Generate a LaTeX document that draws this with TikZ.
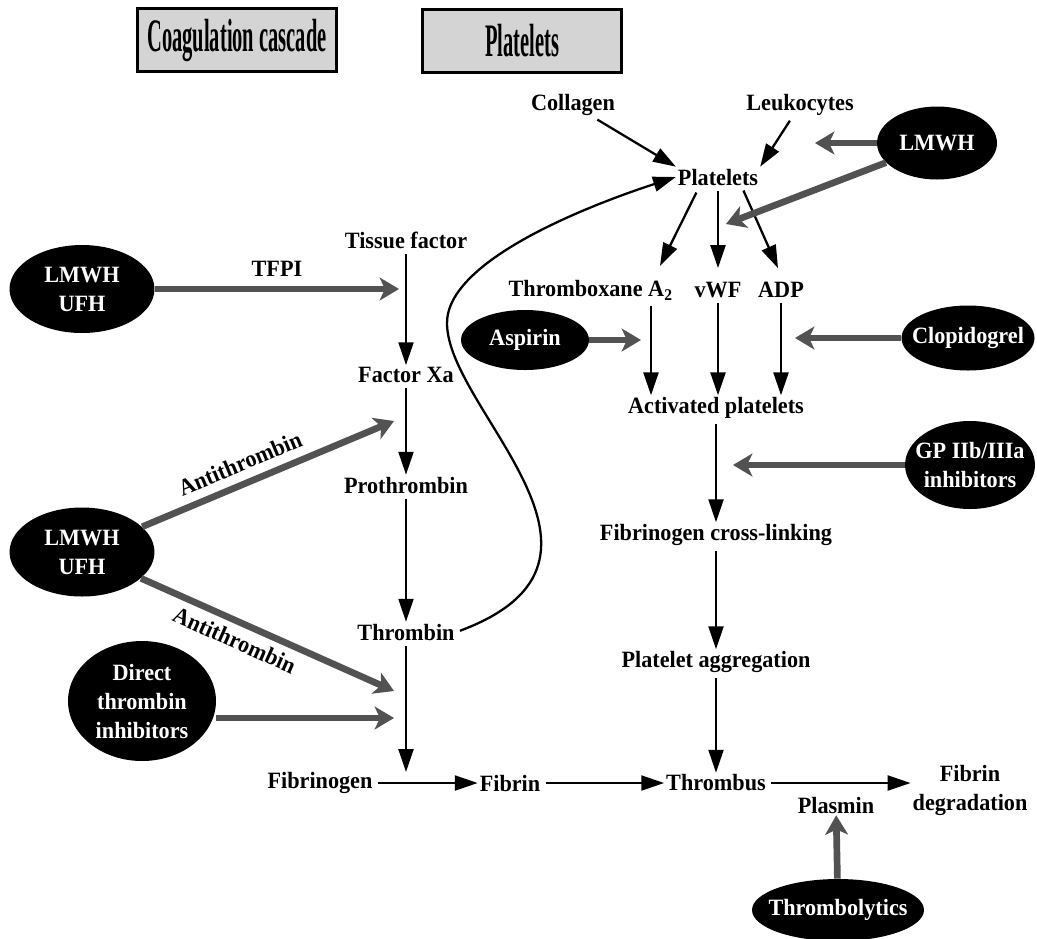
\documentclass[tikz,border=0pt]{standalone}
\usepackage{fontspec}
\setmainfont{Liberation Serif}[FakeStretch=0.95]
\newfontfamily\headfont{Liberation Serif}[FakeStretch=0.44]
\usetikzlibrary{arrows.meta, positioning, shapes.geometric, calc}
\definecolor{druggray}{RGB}{82,82,82}
\definecolor{headgray}{RGB}{212,212,212}
\tikzset{
>={Triangle[length=13pt,width=8.5pt]}, % solid heads for the pathway arrows
every node/.style={font=\bfseries\fontsize{13.3}{16.5}\selectfont, inner sep=1pt}, % bold serif text everywhere
heading/.style={draw=black, line width=1.7pt, fill=headgray, minimum width=4cm, minimum height=1.26cm, font=\headfont\bfseries\fontsize{26.5}{28}\selectfont}, % grey title boxes
drug/.style={ellipse, fill=black, text=white, inner xsep=-0.25cm, inner ysep=0pt, align=center}, % black drug ovals
flow/.style={->, line width=1.3pt, shorten <=2pt}, % black pathway step
block/.style={-{Stealth[length=11pt,width=13pt,inset=3pt]}, line width=3.8pt, draw=druggray}, % grey drug action
}

\begin{document}
\begin{tikzpicture}[x=0.02cm, y=-0.02cm]
      \useasboundingbox (0,0) rectangle (1037,938);

      % titles
      \node[heading] (coag) at (237,40) {Coagulation cascade};
      \node[heading] (plt) at (522,41) {Platelets};

      % platelet branch
      \node (collagen) at (573,105) {Collagen};
      \node (leuko) at (800,105) {Leukocytes};
      \node (platelets) at (718,177) {Platelets};
      \node[anchor=east] (thromboxane) at (675,290) {Thromboxane A\textsubscript{2}};
      \node (vwf) at (718,290) {vWF};
      \node (adp) at (781,290) {ADP};
      \node (activated) at (716,408) {Activated platelets};
      \node (crosslink) at (716,535) {Fibrinogen cross-linking};
      \node (aggregation) at (716,662) {Platelet aggregation};
      \node (thrombus) at (716,783) {Thrombus};
      \node[align=center] (degradation) at (970,790) {Fibrin\\degradation};
      \node (plasmin) at (836,805) {Plasmin};

      % coagulation branch
      \node (tissue) at (406,240) {Tissue factor};
      \node (xa) at (406,375) {Factor Xa};
      \node (prothrombin) at (406,485) {Prothrombin};
      \node (thrombin) at (406,632) {Thrombin};
      \node (fibrinogen) at (320,783) {Fibrinogen};
      \node (fibrin) at (510,783) {Fibrin};

      % drugs
      \node[drug, minimum width=2.9cm, minimum height=1.76cm] (heptop) at (82,289) {LMWH\\UFH};
      \node[drug, minimum width=2.9cm, minimum height=1.78cm] (hepmid) at (82,552) {LMWH\\UFH};
      \node[drug, minimum width=2.96cm, minimum height=2.4cm] (dti) at (142,701) {Direct\\thrombin\\inhibitors};
      \node[drug, minimum width=2.4cm, minimum height=1.46cm] (heppl) at (937,143) {LMWH};
      \node[drug, minimum width=2.56cm, minimum height=1.2cm] (aspirin) at (525,340) {Aspirin};
      \node[drug, minimum width=2.66cm, minimum height=1.3cm] (clopidogrel) at (968,338) {Clopidogrel};
      \node[drug, minimum width=2.6cm, minimum height=1.76cm] (gp) at (970,465) {GP IIb/IIIa\\inhibitors};
      \node[drug, minimum width=3.44cm, minimum height=1.24cm] (thrombolytics) at (838,910) {Thrombolytics};

      % points where the drugs act
      \coordinate (tfpihit) at (399,289);
      \coordinate (athit1) at (394,421);
      \coordinate (athit2) at (394,691);
      \coordinate (dtihit) at (394,718);
      \coordinate (fibhit) at (406,772);
      \coordinate (leukhit) at (815,143);
      \coordinate (vwfhit) at (726,224);
      \coordinate (asphit) at (641,340);
      \coordinate (clophit) at (795,338);
      \coordinate (gphit) at (733,465);
      \coordinate (txfoot) at ($(thromboxane.south east)+(-24,0)$);

      \draw (tissue) edge[flow] (xa)
      (xa) edge[flow] (prothrombin)
      (prothrombin) edge[flow] (thrombin)
      (thrombin) edge[flow] (fibhit)
      (fibrinogen) edge[flow] (fibrin)
      (fibrin) edge[flow] (thrombus)
      (thrombus) edge[flow] (thrombus -| degradation.west)
      (collagen) edge[flow] (platelets.north west)
      (leuko) edge[flow] (platelets.north east)
      ($(platelets.south)+(-20,2)$) edge[flow] ($(thromboxane.north east)+(-15,-12)$)
      (platelets.south) edge[flow] ($(vwf.north)+(0,-12)$)
      ($(platelets.south)+(24,0)$) edge[flow] ($(adp.north)+(-3,-12)$)
      (txfoot) edge[flow] (txfoot |- activated.north)
      (vwf) edge[flow] (vwf |- activated.north)
      (adp) edge[flow] (adp |- activated.north)
      (activated) edge[flow] (crosslink)
      (crosslink) edge[flow] (aggregation)
      (aggregation) edge[flow] (thrombus);

      % thrombin feeds back to the platelets
      \draw[flow] (thrombin.east) .. controls (650,560) and (447,410) .. (447,323)
        .. controls (447,260) and (590,205) .. (platelets.west);

      \draw[block] (heptop) -- node[above=4pt] {TFPI} (tfpihit);
      \draw[block] (hepmid) -- node[pos=0.42, sloped, above=4pt] {Antithrombin} (athit1);
      \draw[block] (hepmid) -- node[pos=0.4, sloped, below=3pt] {Antithrombin} (athit2);
      \draw[block] (dti.east |- dtihit) -- (dtihit);
      \draw[block] (heppl) -- (leukhit);
      \draw[block] (heppl) -- (vwfhit);
      \draw[block] (aspirin) -- (asphit);
      \draw[block] (clopidogrel) -- (clophit);
      \draw[block] (gp) -- (gphit);
      \draw[block] (thrombolytics) -- (plasmin);
    \end{tikzpicture}
\end{document}
